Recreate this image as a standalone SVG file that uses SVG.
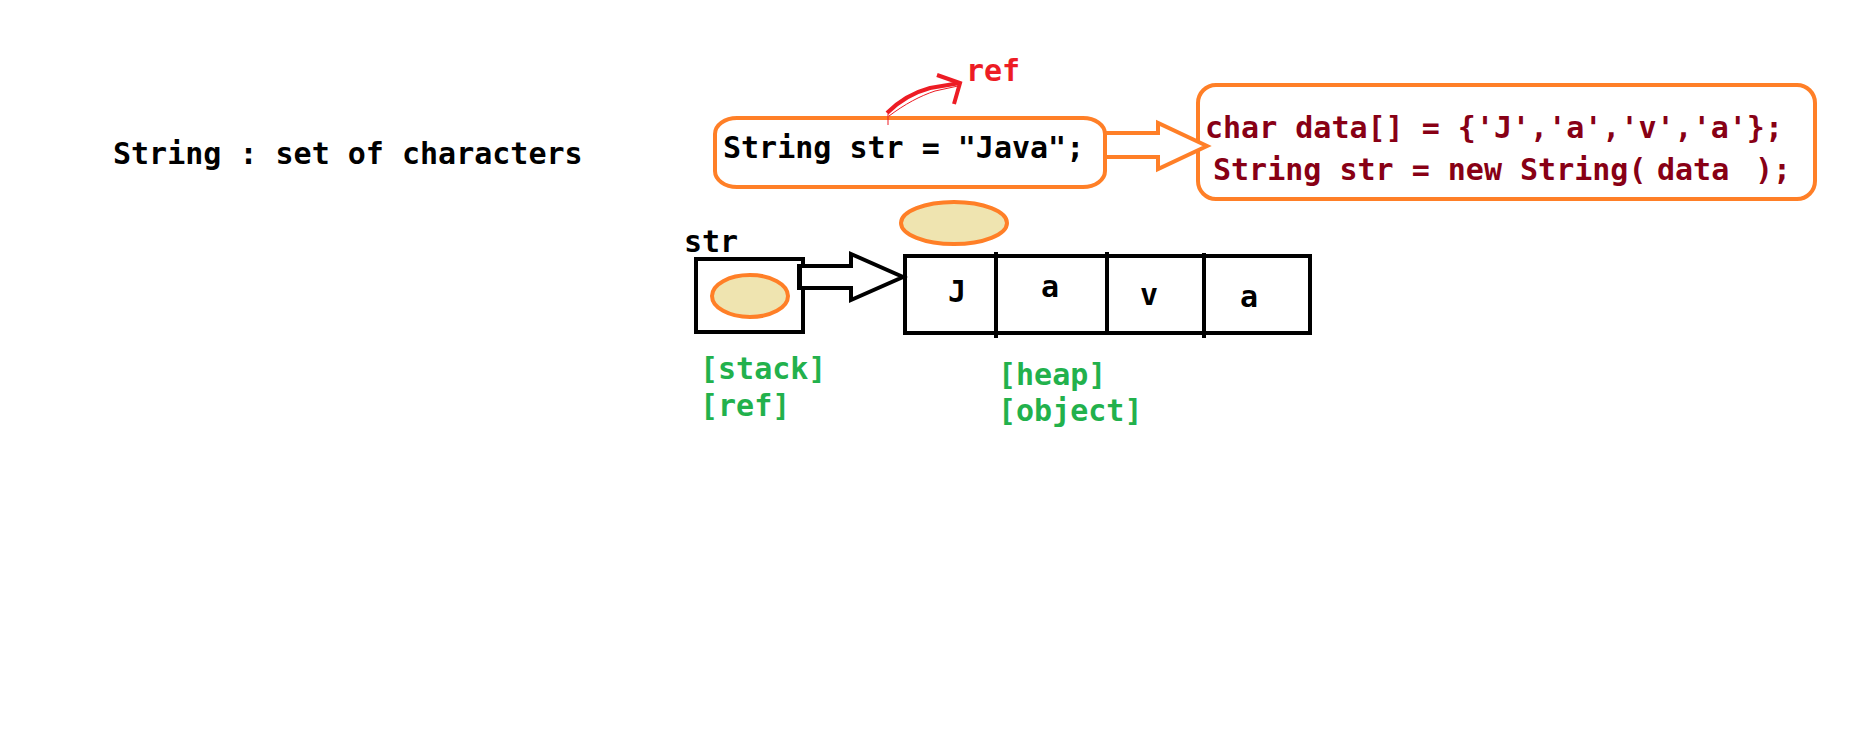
<svg xmlns="http://www.w3.org/2000/svg" width="1852" height="743" viewBox="0 0 1852 743">
<style>
.t{font-family:"DejaVu Sans Mono","Liberation Mono",monospace;font-weight:bold;font-size:30px}
.blk{fill:#000}
.red{fill:#ED1C24}
.dred{fill:#880015}
.grn{fill:#22B14C}
.ob{fill:#fff;stroke:#FF7F27;stroke-width:4}
.bk{fill:none;stroke:#000;stroke-width:4}
.el{fill:#EFE4B0;stroke:#FF7F27;stroke-width:4}
</style>
<rect width="1852" height="743" fill="#fff"/>
<g id="title"><text class="t blk" x="113" y="164">String : set of characters</text></g>
<g id="decl">
<rect class="ob" x="715" y="118" width="390" height="69" rx="22" ry="16"/>
<text class="t blk" x="723" y="158">String str = "Java";</text>
</g>
<g id="ref-label">
<text class="t red" x="966" y="81">ref</text>
</g>
<g id="code">
<rect class="ob" x="1198" y="85" width="617" height="114" rx="18" ry="18"/>
<text class="t dred" x="1205" y="138">char data[] = {'J','a','v','a'};</text>
<text class="t dred" y="180"><tspan x="1213">String str = new String(</tspan><tspan x="1657">data</tspan><tspan x="1755">);</tspan></text>
</g>
<g id="heap-marker"><ellipse class="el" cx="954" cy="223" rx="53" ry="21"/></g>
<g id="stack">
<text class="t blk" x="684" y="252">str</text>
<rect class="bk" x="696" y="259" width="107" height="73"/>
<ellipse class="el" cx="750" cy="296" rx="38" ry="21"/>
<text class="t grn" x="700" y="379">[stack]</text>
<text class="t grn" x="700" y="416">[ref]</text>
</g>
<g id="heap">
<rect class="bk" x="905" y="256" width="405" height="77"/>
<line class="bk" x1="996" y1="252" x2="996" y2="338"/>
<line class="bk" x1="1107" y1="252" x2="1107" y2="333"/>
<line class="bk" x1="1204" y1="253" x2="1204" y2="338"/>
<text class="t blk" text-anchor="middle" x="957" y="302">J</text>
<text class="t blk" text-anchor="middle" x="1050" y="297">a</text>
<text class="t blk" text-anchor="middle" x="1149" y="305">v</text>
<text class="t blk" text-anchor="middle" x="1249" y="307">a</text>
<text class="t grn" x="998" y="385">[heap]</text>
<text class="t grn" x="998" y="421">[object]</text>
</g>
<g id="connectors">
<path d="M887,113 C900,100 915,92 930,88 L960,83" fill="none" stroke="#ED1C24" stroke-width="4"/>
<path d="M889,116 C905,104 920,96 935,91 L958,86" fill="none" stroke="#ED1C24" stroke-width="1"/>
<path d="M937,75 L960,83 L954,104" fill="none" stroke="#ED1C24" stroke-width="4"/>
<line x1="888" y1="114" x2="888" y2="125" stroke="#ED1C24" stroke-width="1"/>
<polygon class="ob" points="1105,133 1158,133 1158,123 1207,146 1158,169 1158,157 1105,157"/>
<polygon points="800,266 851,266 851,254 903,277 851,300 851,288 800,288" fill="#fff" stroke="#000" stroke-width="4" stroke-linejoin="miter"/>
<rect x="797" y="264" width="5" height="26" fill="#000"/>
</g>
</svg>
